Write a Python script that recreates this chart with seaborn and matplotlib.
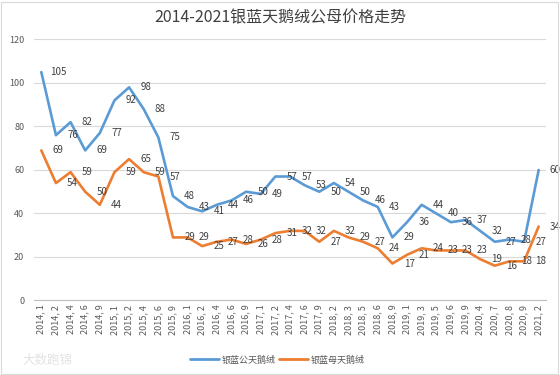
import matplotlib
matplotlib.use("Agg")
import matplotlib.pyplot as plt
import seaborn as sns
import pandas as pd
from matplotlib.patches import Rectangle

periods = ["2014, 1", "2014, 2", "2014, 4", "2014, 6", "2014, 9",
           "2015, 1", "2015, 2", "2015, 4", "2015, 6", "2015, 9",
           "2016, 1", "2016, 2", "2016, 4", "2016, 6", "2016, 9",
           "2017, 1", "2017, 2", "2017, 4", "2017, 6", "2017, 9",
           "2018, 2", "2018, 3", "2018, 5", "2018, 6", "2018, 9",
           "2019, 1", "2019, 3", "2019, 5", "2019, 6", "2019, 9",
           "2020, 4", "2020, 7", "2020, 8", "2020, 9", "2021, 2"]
male = [105, 76, 82, 69, 77, 92, 98, 88, 75, 48,
        43, 41, 44, 46, 50, 49, 57, 57, 53, 50,
        54, 50, 46, 43, 29, 36, 44, 40, 36, 37,
        32, 27, 28, 27, 60]
female = [69, 54, 59, 50, 44, 59, 65, 59, 57, 29,
          29, 25, 27, 28, 26, 28, 31, 32, 32, 27,
          32, 29, 27, 24, 17, 21, 24, 23, 23, 23,
          19, 16, 18, 18, 34]
series_names = ["银蓝公天鹅绒", "银蓝母天鹅绒"]
colors = ["#5B9BD5", "#ED7D31"]

sns.set_style("white")
plt.rcParams["font.family"] = ["Noto Sans CJK SC", "DejaVu Sans"]

df = pd.DataFrame({
    "period": periods * 2,
    "price": male + female,
    "series": [series_names[0]] * len(male) + [series_names[1]] * len(female),
})

fig = plt.figure(figsize=(5.6, 3.75), dpi=100)
ax = fig.add_axes([0.0607, 0.1987, 0.9143, 0.696])

sns.lineplot(data=df, x="period", y="price", hue="series", palette=colors,
             linewidth=1.9, ax=ax, sort=False)

txt = "#404040"
for vals in (male, female):
    for i, v in enumerate(vals):
        ax.annotate(str(v), (i, v), xytext=(12, 0), textcoords="offset points",
                    ha="center", va="center", fontsize=7, color=txt)

ax.set_xlim(-0.5, len(periods) - 0.5)
ax.set_ylim(0, 120)
ax.set_yticks(range(0, 121, 20))
ax.grid(axis="y", color="#D9D9D9", linewidth=0.8)
ax.grid(axis="x", visible=False)
for s in ("top", "right", "left"):
    ax.spines[s].set_visible(False)
ax.spines["bottom"].set_color("#BFBFBF")
ax.spines["bottom"].set_linewidth(0.8)
ax.tick_params(axis="y", length=0, pad=7, labelsize=6.5, labelcolor="#595959")
ax.tick_params(axis="x", length=0, pad=3, labelsize=6.5, labelcolor="#595959",
               labelrotation=90)
ax.set_xlabel("")
ax.set_ylabel("")

fig.suptitle("2014-2021银蓝天鹅绒公母价格走势", x=0.5, y=0.975, fontsize=11.5,
             color="#404040")

handles, labels = ax.get_legend_handles_labels()
ax.get_legend().remove()
leg = fig.legend(handles, labels, loc="center", bbox_to_anchor=(0.495, 0.04),
                 bbox_transform=fig.transFigure, ncol=2, frameon=False,
                 fontsize=6.5, handlelength=3.2, handletextpad=0.3,
                 columnspacing=0.4, labelcolor="#595959")
for line in leg.get_lines():
    line.set_linewidth(2.0)

fig.text(0.04, 0.04, "大数跑锦", fontsize=9, color="#E3E3E3", ha="left", va="center")
fig.patches.append(Rectangle((0.002, 0.002), 0.994, 0.994, transform=fig.transFigure,
                             fill=False, edgecolor="#D9D9D9", linewidth=0.8))

fig.savefig("out.png", dpi=100)
